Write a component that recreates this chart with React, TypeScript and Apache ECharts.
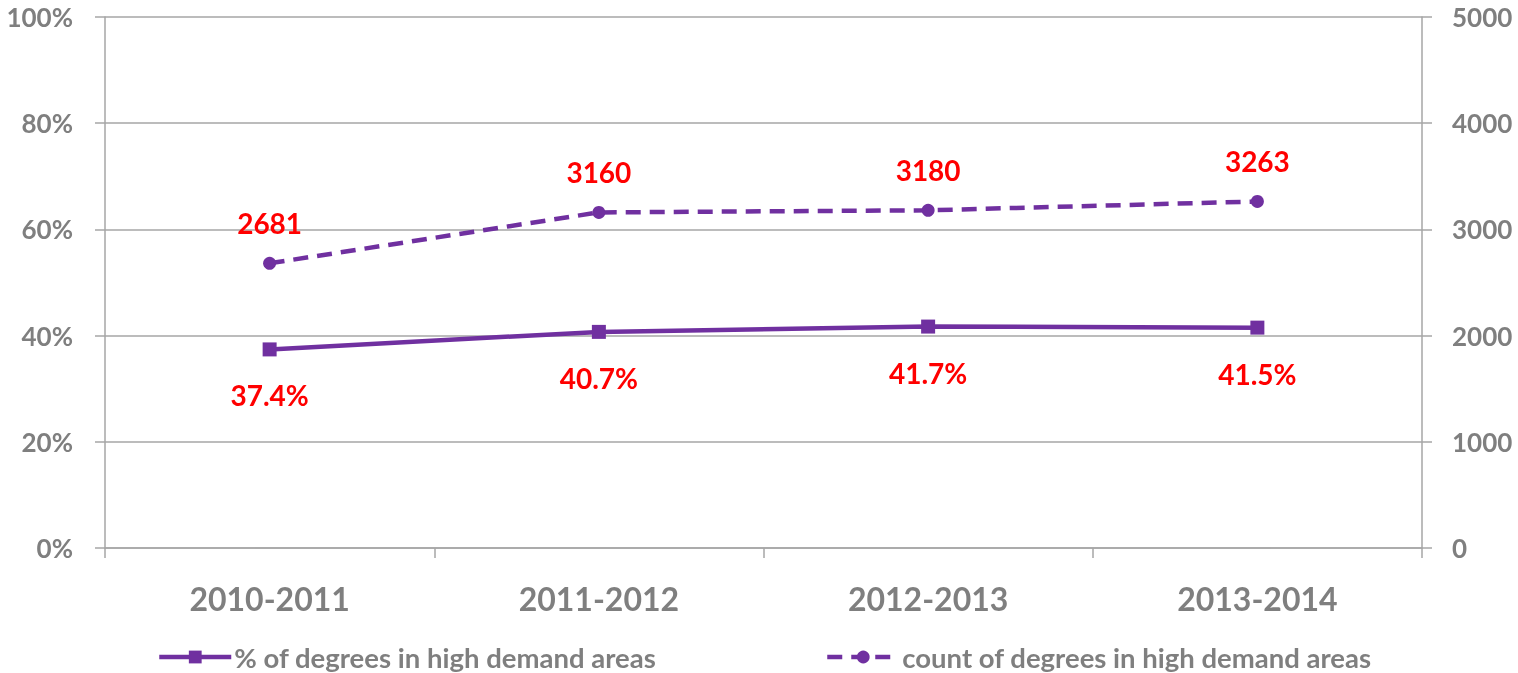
import React, { useEffect, useRef } from "react";
import * as echarts from "echarts";

const categories = ["2010-2011", "2011-2012", "2012-2013", "2013-2014"];
const pctValues = [0.374, 0.407, 0.417, 0.415];
const countValues = [2681, 3160, 3180, 3263];
const pctName = "% of degrees in high demand areas";
const countName = "count of degrees in high demand areas";

const PURPLE = "#7030A0";
const GRAY = "#7f7f7f";
const LINE = "#a6a6a6";
const FONT = "Lato";

export default function App() {
  const ref = useRef<HTMLDivElement>(null);
  useEffect(() => {
    if (!ref.current) return;
    const chart = echarts.init(ref.current, null, { renderer: "svg" });
    const legendBase = {
      top: 643,
      padding: 0,
      itemWidth: 72,
      itemHeight: 16,
      itemGap: 6,
      lineStyle: { width: 4.5 },
      textStyle: { color: GRAY, fontSize: 27.5, fontWeight: "bold", fontFamily: FONT, padding: [0, 0, 0, -2] },
    };
    chart.setOption({
      animation: false,
      textStyle: { fontFamily: FONT },
      grid: { left: 105, right: 96, top: 17, bottom: 125 },
      legend: [
        { ...legendBase, data: [pctName], left: 157 },
        { ...legendBase, data: [countName], left: 825 },
      ],
      xAxis: {
        type: "category",
        data: categories,
        boundaryGap: true,
        axisLine: { lineStyle: { color: LINE, width: 1.5 } },
        axisTick: { show: true, length: 10, interval: 0, lineStyle: { color: LINE, width: 1.5 } },
        axisLabel: { color: GRAY, fontSize: 32, fontWeight: "bold", margin: 34, fontFamily: FONT },
      },
      yAxis: [
        {
          type: "value",
          min: 0,
          max: 1,
          interval: 0.2,
          axisLine: { show: true, lineStyle: { color: LINE, width: 1.5 } },
          axisTick: { show: true, length: 10, lineStyle: { color: LINE, width: 1.5 } },
          splitLine: { show: true, lineStyle: { color: LINE, width: 1.5 } },
          axisLabel: {
            color: GRAY,
            fontSize: 26,
            fontWeight: "bold",
            margin: 32,
            fontFamily: FONT,
            formatter: (v: number) => Math.round(v * 100) + "%",
          },
        },
        {
          type: "value",
          min: 0,
          max: 5000,
          interval: 1000,
          position: "right",
          axisLine: { show: true, lineStyle: { color: LINE, width: 1.5 } },
          axisTick: { show: true, length: 10, lineStyle: { color: LINE, width: 1.5 } },
          splitLine: { show: false },
          axisLabel: {
            color: GRAY,
            fontSize: 26,
            fontWeight: "bold",
            margin: 30,
            fontFamily: FONT,
            formatter: (v: number) => String(v),
          },
        },
      ],
      series: [
        {
          name: pctName,
          type: "line",
          yAxisIndex: 0,
          data: pctValues,
          symbol: "rect",
          symbolSize: 14,
          lineStyle: { color: PURPLE, width: 4.5 },
          itemStyle: { color: PURPLE },
          label: {
            show: true,
            position: "bottom",
            distance: 25,
            color: "#ff0000",
            fontSize: 28,
            fontWeight: "bold",
            fontFamily: FONT,
            formatter: (p: any) => (p.value * 100).toFixed(1) + "%",
          },
        },
        {
          name: countName,
          type: "line",
          yAxisIndex: 1,
          data: countValues,
          symbol: "circle",
          symbolSize: 13,
          lineStyle: { color: PURPLE, width: 4.5, type: [15, 9] },
          itemStyle: { color: PURPLE },
          label: {
            show: true,
            position: "top",
            distance: 20,
            color: "#ff0000",
            fontSize: 28,
            fontWeight: "bold",
            fontFamily: FONT,
          },
        },
      ],
    });
    return () => chart.dispose();
  }, []);
  return (
    <div
      ref={ref}
      style={{ position: "fixed", left: 0, top: 0, width: 1518, height: 673 }}
    />
  );
}
